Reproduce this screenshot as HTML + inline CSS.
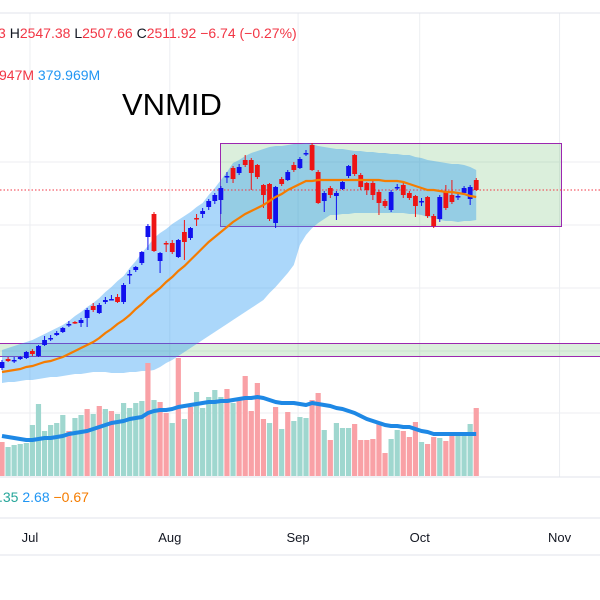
<!DOCTYPE html>
<html><head><meta charset="utf-8"><style>
html,body{margin:0;padding:0;background:#fff;}
#wrap{position:relative;width:600px;height:600px;overflow:hidden;font-family:"Liberation Sans",sans-serif;}
svg{position:absolute;left:0;top:0;}
</style></head><body>
<div id="wrap">
<svg id="chart" width="600" height="600" viewBox="0 0 600 600">
  <g id="grid"></g>
  <g id="rects"></g>
  <g id="band"></g>
  <g id="vols"></g>
  <g id="candles"></g>
  <g id="lines"></g>
  <g id="texts">
    <text x="-2" y="38" font-size="14" fill="#f23645"><tspan>3 </tspan><tspan fill="#131722">H</tspan><tspan>2547.38 </tspan><tspan fill="#131722">L</tspan><tspan>2507.66 </tspan><tspan fill="#131722">C</tspan><tspan>2511.92 −6.74 (−0.27%)</tspan></text>
    <text x="-1" y="80" font-size="14" fill="#f23645">947M <tspan fill="#2196f3">379.969M</tspan></text>
    <text x="122" y="115" font-size="31" fill="#000">VNMID</text>
    <text x="-1" y="502" font-size="14" fill="#26a69a">.35 <tspan fill="#2196f3">2.68</tspan> <tspan fill="#f57c00">−0.67</tspan></text>
  </g>
  <g id="xaxis"></g>
</svg>
</div>
<script>
const opens=[2332,2341,2339,2341,2342,2349,2344,2355,2361,2365,2368,2375,2378,2377,2382,2394,2387,2398,2400,2403,2398,2425,2430,2437,2463,2486,2439,2457,2457,2443,2468,2462,2482,2486,2493,2499,2500,2523,2532,2527,2540,2540,2535,2515,2516,2477,2521,2520,2535,2532,2546,2555,2528,2499,2512,2504,2511,2524,2545,2525,2517,2517,2508,2499,2490,2512,2515,2507,2504,2498,2503,2484,2481,2508,2505,2503,2507,2501,2520];
const highs=[2340,2343,2343,2344,2349,2351,2355,2364,2365,2369,2373,2379,2379,2382,2392,2397,2397,2403,2405,2406,2417,2430,2434,2449,2476,2488,2448,2459,2460,2461,2480,2473,2486,2492,2501,2507,2514,2528,2534,2536,2545,2542,2536,2516,2517,2514,2523,2530,2538,2543,2550,2557,2530,2509,2514,2509,2520,2535,2546,2527,2518,2519,2510,2501,2510,2516,2517,2509,2505,2502,2504,2486,2505,2515,2520,2508,2514,2515,2522];
const lows=[2330,2338,2337,2340,2341,2344,2343,2354,2359,2364,2367,2373,2376,2373,2373,2388,2386,2396,2400,2397,2396,2416,2428,2435,2450,2448,2427,2448,2446,2442,2440,2460,2474,2482,2490,2496,2486,2517,2517,2525,2533,2510,2521,2492,2479,2472,2514,2519,2528,2531,2544,2529,2496,2488,2502,2480,2510,2522,2524,2510,2505,2500,2485,2492,2488,2510,2502,2500,2483,2494,2482,2472,2478,2490,2496,2500,2505,2495,2509];
const closes=[2338,2339,2340,2343,2348,2346,2354,2360,2362,2367,2372,2376,2377,2380,2390,2390,2395,2400,2401,2398,2415,2426,2433,2448,2474,2449,2447,2456,2448,2460,2458,2472,2481,2489,2499,2505,2512,2524,2521,2533,2535,2527,2523,2505,2481,2513,2516,2528,2530,2541,2547,2530,2497,2507,2505,2507,2518,2534,2526,2513,2510,2505,2497,2494,2508,2513,2505,2502,2494,2499,2484,2474,2503,2492,2498,2504,2512,2513,2510];
const maValues=[2328,2329,2330,2331,2333,2334,2336,2338,2339,2341,2343,2346,2349,2352,2355,2358,2362,2367,2371,2376,2380,2385,2391,2396,2402,2407,2412,2418,2423,2429,2434,2440,2446,2452,2458,2463,2468,2473,2478,2482,2486,2489,2492,2495,2499,2503,2506,2510,2513,2516,2519,2519,2520,2520,2520,2520,2520,2520,2520,2520,2520,2520,2520,2519,2519,2519,2518,2516,2514,2512,2510,2510,2509,2508,2508,2507,2506,2504,2503];
const upperBand=[2350,2352,2354,2356,2358,2360,2363,2366,2369,2372,2375,2379,2384,2388,2393,2397,2402,2408,2413,2419,2424,2432,2439,2447,2454,2462,2467,2471,2476,2480,2484,2488,2493,2497,2505,2512,2520,2528,2537,2540,2544,2547,2549,2551,2553,2554,2554,2555,2556,2556,2557,2556,2554,2553,2552,2551,2551,2550,2549,2549,2548,2548,2547,2547,2546,2546,2545,2545,2543,2542,2540,2539,2538,2537,2536,2536,2535,2533,2530];
const lowerBand=[2317,2318,2318,2319,2320,2320,2321,2322,2323,2323,2324,2325,2326,2326,2327,2328,2328,2328,2327,2327,2327,2328,2328,2329,2329,2330,2333,2337,2340,2344,2348,2352,2356,2360,2364,2368,2372,2376,2380,2384,2388,2392,2396,2400,2407,2413,2420,2427,2435,2455,2465,2472,2477,2481,2485,2485,2486,2486,2487,2487,2487,2487,2487,2487,2487,2487,2487,2486,2486,2485,2483,2482,2480,2479,2479,2478,2479,2479,2480];
const volumes=[170,145,155,160,165,255,360,225,255,265,305,225,290,305,335,310,350,335,325,310,365,340,365,375,565,380,370,315,265,590,285,345,420,340,395,430,395,435,365,380,500,325,465,285,265,345,235,320,275,295,290,380,415,230,180,265,240,240,260,180,180,185,265,115,185,230,225,195,270,170,160,195,190,175,220,210,215,260,340];
const volUp=[0,1,1,1,1,1,1,1,1,1,1,0,1,1,0,1,0,1,0,1,1,1,1,1,0,1,0,0,1,0,1,0,1,1,1,1,1,0,1,0,0,0,0,0,1,0,1,0,1,1,1,0,0,1,0,1,1,1,0,0,0,0,0,0,1,1,0,0,0,1,0,0,1,0,0,1,1,1,0];
const volMA=[200,195,190,185,180,180,185,190,190,195,200,210,215,220,225,235,245,255,265,270,275,285,290,295,315,325,330,330,335,345,350,355,360,365,370,370,375,375,380,385,390,390,395,390,380,370,365,365,365,360,355,365,360,355,350,340,335,325,315,300,285,275,265,255,250,250,245,245,235,225,220,210,210,210,210,210,210,210,210];
const monthLabels=["Jul","Aug","Sep","Oct","Nov"];
const monthIndex=[4.6,27.6,48.7,68.7,91.7];

const NS="http://www.w3.org/2000/svg";
function xOf(i){return 2+i*6.08;}
function yP(p){return 189-(p-2511)*1.0;}
function yV(v){return 476-v/5;}
function mk(tag,attrs,parent){const e=document.createElementNS(NS,tag);for(const k in attrs)e.setAttribute(k,attrs[k]);parent.appendChild(e);return e;}

const grid=document.getElementById('grid');
[162,225,288,351,413].forEach(function(y){
  const l=mk('line',{x1:0,x2:600,y1:y,y2:y,stroke:'#eceef2','stroke-width':1},grid);
  
  
});
monthIndex.forEach(function(m){
  const x=xOf(m);
  const l=mk('line',{x1:x,x2:x,y1:13,y2:477,stroke:'#eceef2','stroke-width':1},grid);
  
  
});
[13,477,518,555].forEach(function(y){
  const l=mk('line',{x1:0,x2:600,y1:y,y2:y,stroke:'#e0e3eb','stroke-width':1},grid);
  
  
});

const rects=document.getElementById('rects');
const r1=mk('rect',{x:220.5,y:143.5,width:341,height:83,fill:'rgba(76,175,80,0.2)',stroke:'#9c27b0','stroke-width':1},rects);


const r2=mk('rect',{x:-1,y:343.5,width:602,height:13,fill:'rgba(76,175,80,0.2)',stroke:'#9c27b0','stroke-width':1},rects);



const band=document.getElementById('band');
let d='';
for(let i=0;i<upperBand.length;i++)d+=(i?'L':'M')+xOf(i).toFixed(1)+' '+yP(upperBand[i]).toFixed(1);
for(let i=lowerBand.length-1;i>=0;i--)d+='L'+xOf(i).toFixed(1)+' '+yP(lowerBand[i]).toFixed(1);
const bp=mk('path',{d:d+'Z',fill:'rgba(33,150,243,0.38)'},band);



const dl=mk('line',{x1:0,x2:600,y1:yP(closes[closes.length-1]),y2:yP(closes[closes.length-1]),stroke:'#f23645','stroke-width':1,'stroke-dasharray':'1.5 2'},band);



const vols=document.getElementById('vols');
volumes.forEach(function(v,i){
  const y=yV(v);
  const r=mk('rect',{x:xOf(i)-2.6,y:y,width:5.2,height:476-y,fill:volUp[i]?'#9fd7cf':'#f9a1a6'},vols);
  
  
});

const cg=document.getElementById('candles');
opens.forEach(function(o,i){
  const c=closes[i],up=c>=o,col=up?'#1010ee':'#ee1414',x=xOf(i);
  const g=mk('g',{},cg);
  
  
  mk('line',{x1:x,x2:x,y1:yP(highs[i]),y2:yP(lows[i]),stroke:col,'stroke-width':1},g);
  const top=Math.min(yP(o),yP(c)),h=Math.max(1.5,Math.abs(yP(o)-yP(c)));
  mk('rect',{x:x-2.4,y:top,width:4.8,height:h,fill:col},g);
});

const lg=document.getElementById('lines');
let md='';maValues.forEach(function(v,i){md+=(i?'L':'M')+xOf(i).toFixed(1)+' '+yP(v).toFixed(1);});
const ml=mk('path',{d:md,fill:'none',stroke:'#f57c00','stroke-width':2.2},lg);


let vd='';volMA.forEach(function(v,i){vd+=(i?'L':'M')+xOf(i).toFixed(1)+' '+yV(v).toFixed(1);});
const vl=mk('path',{d:vd,fill:'none',stroke:'#1e88e5','stroke-width':4,'stroke-linejoin':'round'},lg);



const xa=document.getElementById('xaxis');
monthLabels.forEach(function(m,i){
  const t=mk('text',{x:xOf(monthIndex[i]),y:542,'font-size':13,fill:'#131722','text-anchor':'middle'},xa);
  t.textContent=m;
  
  
});
</script>
</body></html>
